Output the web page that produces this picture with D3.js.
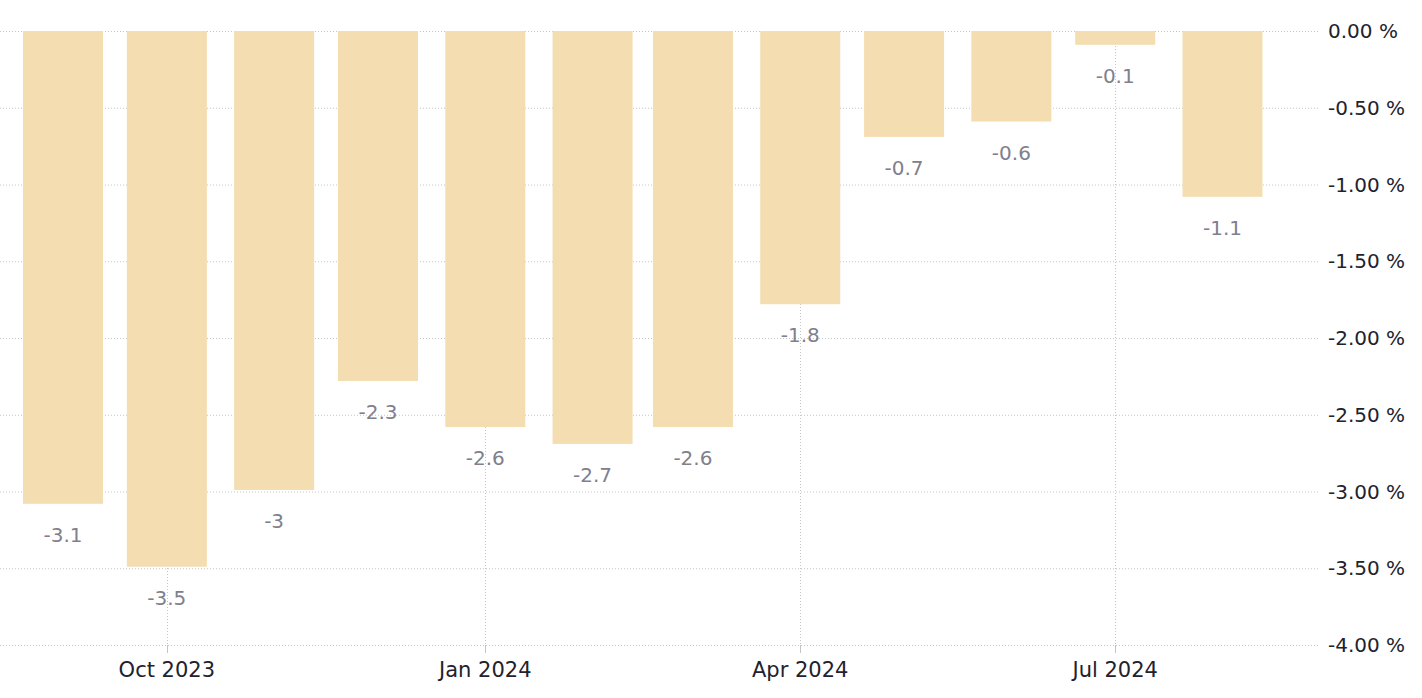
<!DOCTYPE html>
<html>
<head>
<meta charset="utf-8">
<script src="https://cdn.jsdelivr.net/npm/d3@7"></script>
<style>
  html, body { margin: 0; padding: 0; background: #fff; }
  svg { display: block; }
</style>
</head>
<body>
<svg id="chart" width="1422" height="698"></svg>
<script>
const months = ["2023-09-01","2023-10-01","2023-11-01","2023-12-01","2024-01-01","2024-02-01",
                "2024-03-01","2024-04-01","2024-05-01","2024-06-01","2024-07-01","2024-08-01"];
const values = [-3.08, -3.49, -2.99, -2.28, -2.58, -2.69, -2.58, -1.78, -0.69, -0.59, -0.09, -1.08];
const yTicks = [0, -0.5, -1, -1.5, -2, -2.5, -3, -3.5, -4];
const xTicks = ["2023-10-01","2024-01-01","2024-04-01","2024-07-01"];

const parse = d3.utcParse("%Y-%m-%d");
const data = months.map((m, i) => ({ date: parse(m), value: values[i] }));

const svg = d3.select("#chart");
const font = "'DejaVu Sans', Verdana, sans-serif";

const x = d3.scaleUtc()
  .domain([parse(months[0]), parse(months[months.length - 1])])
  .range([63, 1222.5]);
const y = d3.scaleLinear().domain([0, -4]).range([31, 645]);

const gridLeft = 0, gridRight = 1320;
const barW = 80;

// horizontal grid
svg.append("g").selectAll("line").data(yTicks).join("line")
  .attr("x1", gridLeft).attr("x2", gridRight)
  .attr("y1", d => y(d) + 0.5).attr("y2", d => y(d) + 0.5)
  .attr("stroke", "#c4c4c4").attr("stroke-width", 1)
  .attr("stroke-dasharray", "1,2");

// vertical grid
const xt = xTicks.map(parse);
svg.append("g").selectAll("line").data(xt).join("line")
  .attr("x1", d => Math.round(x(d)) + 0.5).attr("x2", d => Math.round(x(d)) + 0.5)
  .attr("y1", y(0)).attr("y2", y(-4))
  .attr("stroke", "#c4c4c4").attr("stroke-width", 1)
  .attr("stroke-dasharray", "1,2");

// x ticks
svg.append("g").selectAll("line").data(xt).join("line")
  .attr("x1", d => Math.round(x(d)) + 0.5).attr("x2", d => Math.round(x(d)) + 0.5)
  .attr("y1", y(-4)).attr("y2", y(-4) + 8)
  .attr("stroke", "#c4c4c4").attr("stroke-width", 1);

// bars
svg.append("g").selectAll("rect").data(data).join("rect")
  .attr("x", d => x(d.date) - barW / 2)
  .attr("width", barW)
  .attr("y", y(0))
  .attr("height", d => y(d.value) - y(0))
  .attr("fill", "#f4ddb1");

// value labels
const fmtVal = v => String(Math.round(v * 10) / 10);
svg.append("g").selectAll("text").data(data).join("text")
  .attr("x", d => x(d.date))
  .attr("y", d => y(d.value) + 38)
  .attr("text-anchor", "middle")
  .attr("font-family", font)
  .attr("font-size", 20)
  .attr("fill", "#80808c")
  .text(d => fmtVal(d.value));

// y axis labels (hyphen minus as in the reference)
const locale = d3.formatLocale({decimal: ".", thousands: ",", grouping: [3], currency: ["", ""], minus: "-"});
const fmtY = locale.format(".2f");
svg.append("g").selectAll("text").data(yTicks).join("text")
  .attr("x", 1328)
  .attr("y", d => y(d))
  .attr("dy", "0.36em")
  .attr("font-family", font)
  .attr("font-size", 20)
  .attr("fill", "#22222c")
  .text(d => fmtY(d) + " %");

// x axis labels
const fmtX = d3.utcFormat("%b %Y");
svg.append("g").selectAll("text").data(xt).join("text")
  .attr("x", d => x(d))
  .attr("y", 677)
  .attr("text-anchor", "middle")
  .attr("font-family", font)
  .attr("font-size", 21)
  .attr("fill", "#22222c")
  .text(d => fmtX(d));
</script>
</body>
</html>
